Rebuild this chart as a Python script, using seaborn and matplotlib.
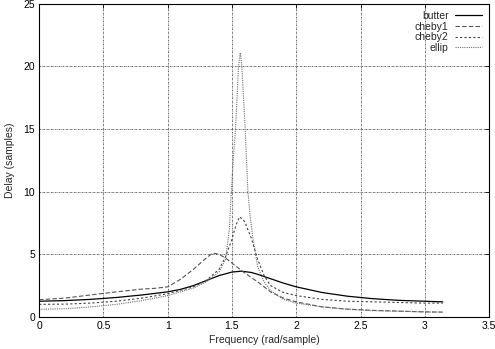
import matplotlib
matplotlib.use("Agg")
import matplotlib.pyplot as plt
import matplotlib.ticker as mticker
import seaborn as sns
import pandas as pd

# Group delay of four band-pass designs, sampled at hand-picked frequencies
butter_w = [0.0, 0.2, 0.4, 0.6, 0.8, 1.0, 1.1, 1.2, 1.3, 1.4, 1.5, 1.57, 1.65, 1.7, 1.8, 1.9, 2.0,
            2.2, 2.4, 2.6, 2.8, 3.0, 3.14]
butter_d = [1.25, 1.3, 1.4, 1.55, 1.75, 2.0, 2.2, 2.5, 2.9, 3.3, 3.58, 3.65, 3.55, 3.4, 3.05, 2.7, 2.4,
            1.95, 1.65, 1.45, 1.32, 1.25, 1.2]

cheby1_w = [0.0, 0.2, 0.4, 0.6, 0.8, 0.9, 1.0, 1.1, 1.2, 1.3, 1.35, 1.4, 1.45, 1.5, 1.6, 1.7, 1.8,
            1.9, 2.0, 2.2, 2.4, 2.6, 2.8, 3.0, 3.14]
cheby1_d = [1.37, 1.5, 1.75, 2.0, 2.22, 2.28, 2.4, 3.0, 3.8, 4.7, 5.1, 5.0, 4.7, 4.3, 3.5, 2.8, 2.0,
            1.5, 1.2, 0.8, 0.62, 0.52, 0.46, 0.4, 0.38]

cheby2_w = [0.0, 0.2, 0.4, 0.6, 0.8, 1.0, 1.2, 1.3, 1.4, 1.45, 1.5, 1.53, 1.56, 1.6, 1.65, 1.7,
            1.75, 1.8, 1.9, 2.0, 2.2, 2.4, 2.6, 2.8, 3.0, 3.14]
cheby2_d = [1.0, 1.02, 1.1, 1.25, 1.5, 1.85, 2.4, 2.9, 3.8, 4.8, 6.2, 7.3, 8.0, 7.6, 6.3, 4.6,
            3.3, 2.5, 1.95, 1.7, 1.4, 1.25, 1.2, 1.15, 1.1, 1.1]

ellip_w = [0.0, 0.2, 0.4, 0.6, 0.8, 1.0, 1.2, 1.3, 1.4, 1.45, 1.48, 1.495, 1.51, 1.528, 1.551,
           1.565, 1.577, 1.59, 1.603, 1.624, 1.64, 1.66, 1.7, 1.75, 1.8, 1.9, 2.0, 2.2, 2.4, 2.6,
           2.8, 3.0, 3.14]
ellip_d = [0.6, 0.65, 0.8, 1.0, 1.3, 1.7, 2.3, 2.8, 3.6, 4.6, 7.0, 10.0, 12.5, 15.0, 20.0,
           21.1, 20.0, 17.5, 15.0, 10.0, 8.2, 6.5, 4.0, 2.8, 2.1, 1.4, 1.1, 0.8, 0.6, 0.5,
           0.45, 0.4, 0.38]

x_ticks = [0, 0.5, 1, 1.5, 2, 2.5, 3, 3.5]
y_ticks = [0, 5, 10, 15, 20, 25]

sns.set_theme(style="white")
plt.rcParams["font.family"] = ["Liberation Sans", "DejaVu Sans"]
plt.rcParams["font.size"] = 7.5

fig = plt.figure(figsize=(4.95, 3.49), dpi=100)
ax = fig.add_axes([0.079, 0.092, 0.909, 0.897])

series = [
    ("butter", butter_w, butter_d, "#000000", "-", 0.9),
    ("cheby1", cheby1_w, cheby1_d, "#555555", (0, (4, 2))),
    ("cheby2", cheby2_w, cheby2_d, "#444444", (0, (2, 2))),
    ("ellip", ellip_w, ellip_d, "#707070", (0, (1, 1))),
]
for item in series:
    name, w, d, col, ls = item[:5]
    lw = item[5] if len(item) > 5 else 0.8
    df = pd.DataFrame({"w": w, "d": d})
    sns.lineplot(data=df, x="w", y="d", ax=ax, color=col, linestyle=ls,
                 linewidth=lw, label=name, sort=False)

ax.set_xlim(0, 3.5)
ax.set_ylim(0, 25)
ax.set_xticks(x_ticks)
ax.set_yticks(y_ticks)
ax.xaxis.set_major_formatter(mticker.FuncFormatter(lambda v, p: f"{v:g}"))
ax.set_xlabel("Frequency (rad/sample)", fontsize=7.5, labelpad=3)
ax.set_ylabel("Delay (samples)", fontsize=7.5, labelpad=6)
ax.tick_params(axis="both", direction="in", length=3, width=0.6, labelsize=7.5,
               top=True, right=True, pad=3, colors="#000000")
ax.grid(True, color="#555555", linestyle=(0, (2, 1, 0.6, 1)), linewidth=0.6)
for s in ax.spines.values():
    s.set_color("#000000")
    s.set_linewidth(0.8)

leg = ax.legend(loc="upper right", frameon=False, markerfirst=False, fontsize=7.5,
                handlelength=2.6, handletextpad=0.6, labelspacing=0.05,
                borderaxespad=0.3)

fig.savefig("out.png", dpi=100)
